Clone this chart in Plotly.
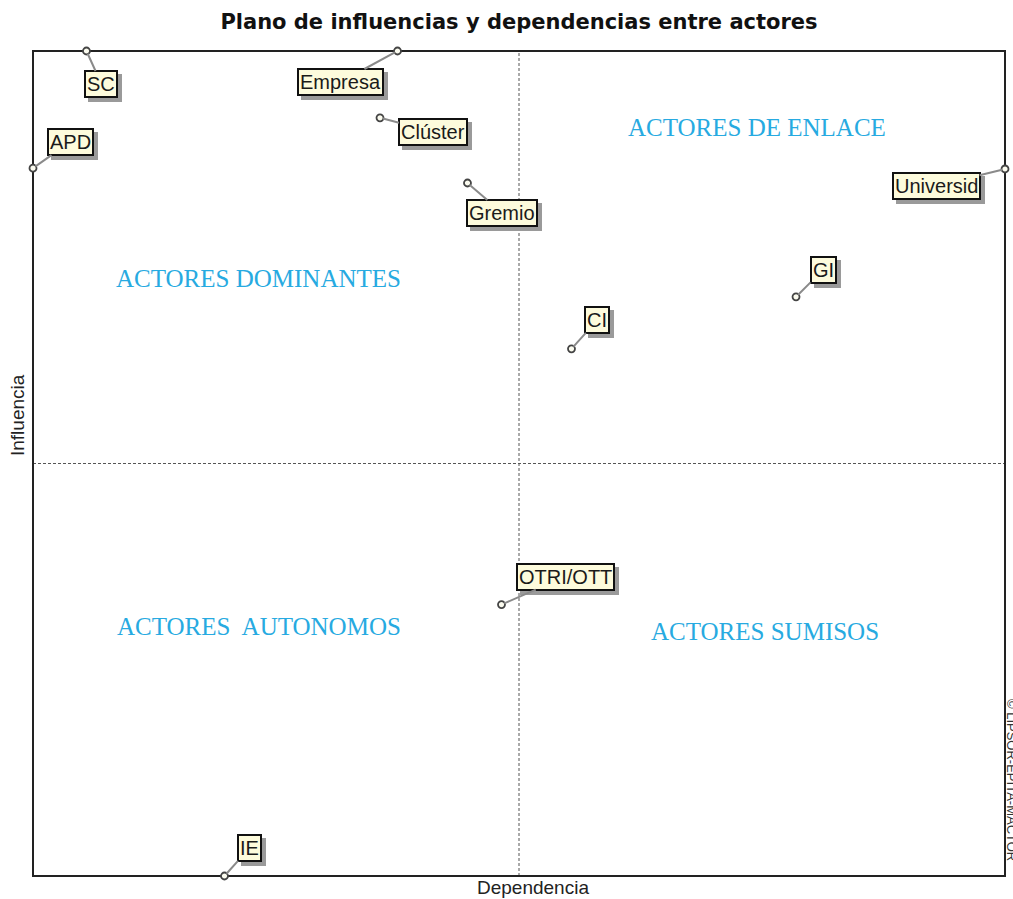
import plotly.graph_objects as go

actores = ["SC", "Empresa", "Clúster", "APD", "Gremio", "Universid", "GI", "CI", "OTRI/OTT", "IE"]
dependencia = [0.055, 0.375, 0.357, 0.0, 0.447, 1.0, 0.785, 0.554, 0.482, 0.197]
influencia = [1.0, 1.0, 0.919, 0.858, 0.840, 0.857, 0.702, 0.639, 0.329, 0.0]
# label offsets in pixels (label centre relative to point)
off_x = [15, -57, 53, 37, 35, -69, 27, 26, 64, 25]
off_y = [33, 31, 14, -26, 30, 17, -27, -29, -28, -28]

cuadrantes = ["ACTORES DE ENLACE", "ACTORES DOMINANTES", "ACTORES  AUTONOMOS", "ACTORES SUMISOS"]
cuad_x = [0.7449, 0.2325, 0.2325, 0.753]
cuad_y = [0.9067, 0.7248, 0.3030, 0.2958]

LABEL_FONT = "Liberation Sans, Arial"

fig = go.Figure()

fig.add_trace(go.Scatter(
    x=dependencia, y=influencia, mode="markers",
    marker=dict(size=7, color="#fbfbef", line=dict(color="#444", width=1.8)),
    cliponaxis=False, hoverinfo="text", text=actores, showlegend=False,
))

annotations = []
# shadows
for a, x, y, dx, dy in zip(actores, dependencia, influencia, off_x, off_y):
    annotations.append(dict(
        x=x, y=y, xref="x", yref="y", text=a, showarrow=True,
        ax=dx + 4, ay=dy + 4, arrowcolor="rgba(0,0,0,0)", arrowwidth=0.1,
        font=dict(family=LABEL_FONT, size=20, color="#9a9a9a"),
        bgcolor="#9a9a9a", bordercolor="#9a9a9a", borderwidth=2, borderpad=1,
    ))
# labels
for a, x, y, dx, dy in zip(actores, dependencia, influencia, off_x, off_y):
    annotations.append(dict(
        x=x, y=y, xref="x", yref="y", text=a, showarrow=True,
        ax=dx, ay=dy, arrowcolor="#8a8a8a", arrowwidth=2, arrowhead=0, standoff=3,
        font=dict(family=LABEL_FONT, size=20, color="#1a1a1a"),
        bgcolor="#fdfbdc", bordercolor="#111", borderwidth=2, borderpad=1,
    ))
for t, x, y in zip(cuadrantes, cuad_x, cuad_y):
    annotations.append(dict(
        x=x, y=y, xref="paper", yref="paper", text=t, showarrow=False,
        xanchor="center", yanchor="middle",
        font=dict(family="Liberation Serif, Times New Roman", size=25, color="#27aae1"),
    ))
annotations.append(dict(
    x=(533 - 33) / 972, y=0, xref="paper", yref="paper", yshift=1, yanchor="top", xanchor="center",
    text="Dependencia", showarrow=False,
    font=dict(family=LABEL_FONT, size=19, color="#222"),
))
annotations.append(dict(
    x=0, y=(876 - 415) / 825, xref="paper", yref="paper", xshift=-15, textangle=-90,
    xanchor="center", yanchor="middle",
    text="Influencia", showarrow=False,
    font=dict(family=LABEL_FONT, size=19, color="#222"),
))
annotations.append(dict(
    x=1, y=(876 - 780) / 825, xref="paper", yref="paper", xshift=7, textangle=90,
    xanchor="center", yanchor="middle",
    text="© LIPSOR-EPITA-MACTOR", showarrow=False,
    font=dict(family=LABEL_FONT, size=13, color="#333"),
))

shapes = [
    dict(type="line", xref="x", yref="paper", x0=0.5, x1=0.5, y0=0, y1=1,
         line=dict(color="#555", width=1, dash="3px,2px"), layer="below"),
    dict(type="line", xref="paper", yref="y", x0=0, x1=1, y0=0.5, y1=0.5,
         line=dict(color="#555", width=1, dash="3px,2px"), layer="below"),
    dict(type="rect", xref="paper", yref="paper", x0=0, x1=1, y0=0, y1=1,
         line=dict(color="#222", width=2), layer="below"),
]

fig.update_layout(
    width=1013, height=899,
    margin=dict(l=33, r=8, t=51, b=23),
    paper_bgcolor="white", plot_bgcolor="white",
    title=dict(text="<b>Plano de influencias y dependencias entre actores</b>",
               x=519 / 1013, xanchor="center", y=1 - 22 / 899, yanchor="middle",
               font=dict(family="DejaVu Sans, Verdana", size=21, color="#111")),
    xaxis=dict(range=[0, 1], showgrid=False, zeroline=False, showticklabels=False, ticks=""),
    yaxis=dict(range=[0, 1], showgrid=False, zeroline=False, showticklabels=False, ticks=""),
    annotations=annotations, shapes=shapes,
)

fig.write_html("out.html", config={"displayModeBar": False},
               post_script="document.body.style.margin='0';document.body.style.overflow='hidden';")
